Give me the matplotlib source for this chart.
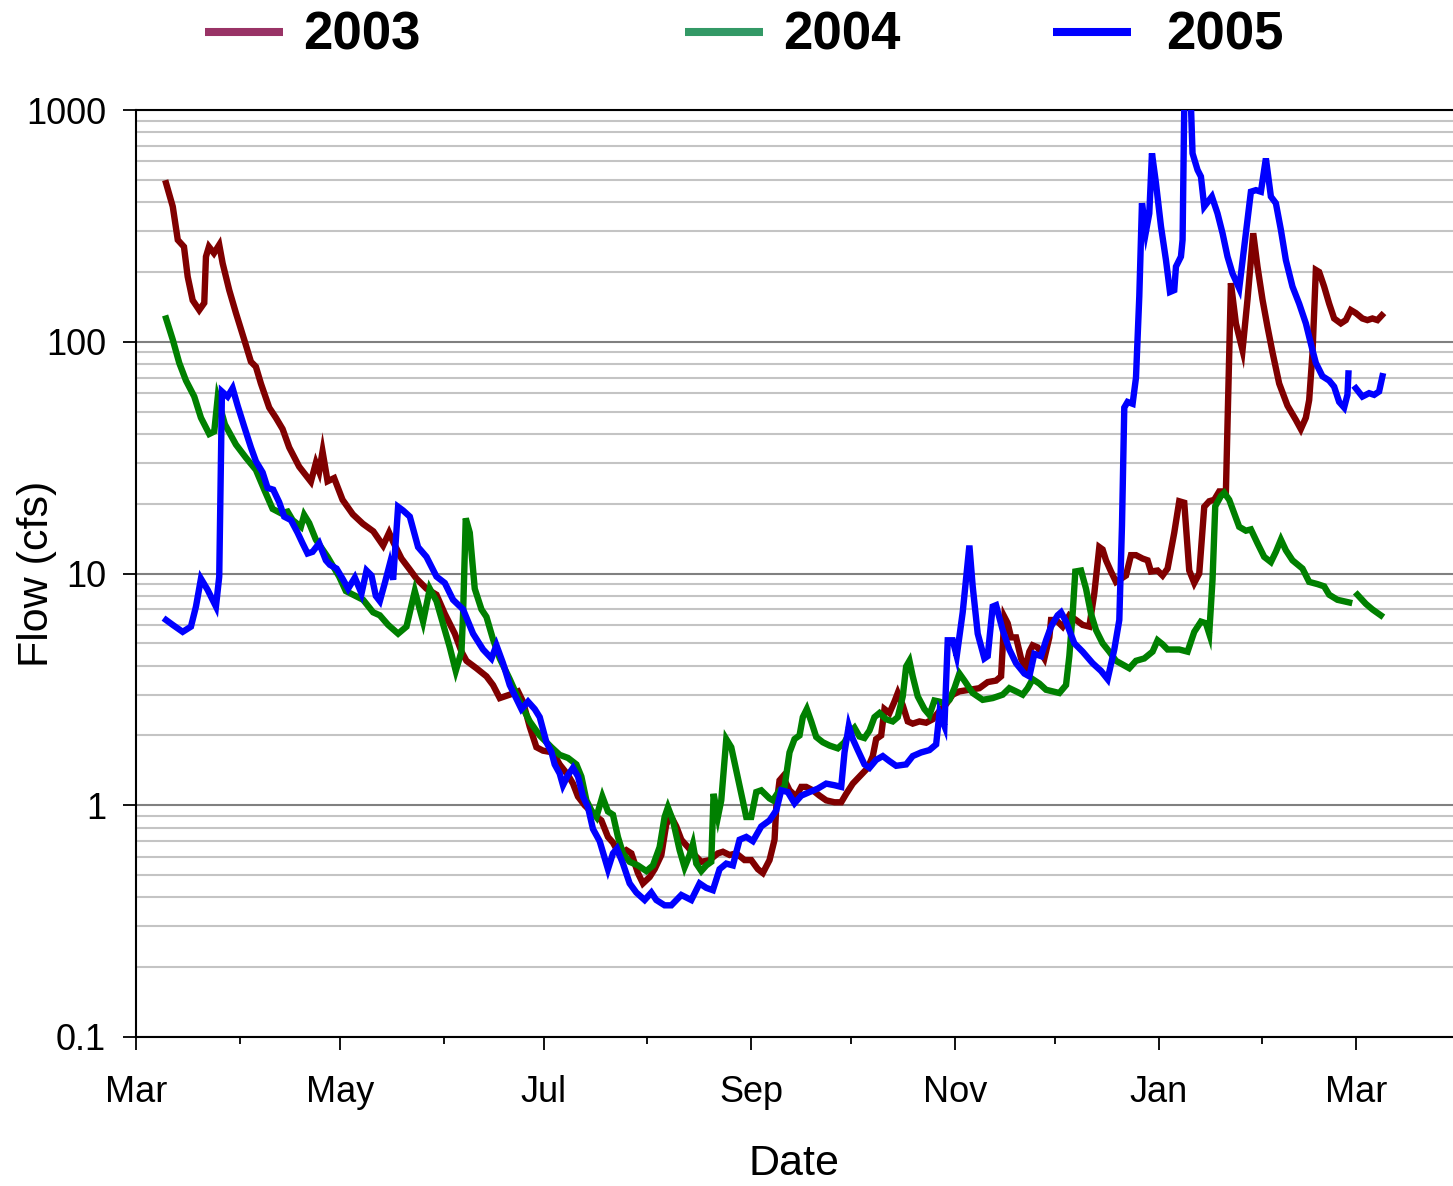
import numpy as np
import matplotlib
matplotlib.use("Agg")
import matplotlib.pyplot as plt
from matplotlib.lines import Line2D
from matplotlib.ticker import FixedLocator, NullFormatter

plt.rcParams['font.family'] = ['Liberation Sans', 'DejaVu Sans']

# ---- data: day offset from 1 March, flow in cfs ----
days_2003 = [9.0, 11.0, 12.5, 14.35, 15.46, 16.95, 18.92, 20.42, 20.93, 21.82, 23.32, 24.9, 25.92, 27.89,
             29.9, 32.38, 34.38, 35.87, 37.37, 39.85, 41.85, 43.86, 45.83, 48.82, 52.32, 53.81, 54.8, 55.81,
             57.31, 59.28, 61.79, 64.87, 67.86, 71.0, 73.93, 75.72, 76.92, 79.43, 81.91, 83.91, 86.9, 89.89,
             92.38, 95.37, 97.37, 98.86, 101.85, 104.84, 106.81, 108.82, 111.81, 114.29, 115.78, 117.79,
             119.79, 121.76, 124.75, 126.75, 129.24, 130.73, 132.23, 134.23, 136.71, 139.22, 141.19, 142.69,
             144.69, 146.69, 148.19, 150.16, 151.66, 153.66, 155.16, 157.16, 158.65, 160.15, 161.64, 163.14,
             165.11, 167.11, 169.12, 171.6, 174.08, 175.57, 177.58, 179.58, 182.06, 184.06, 186.04, 187.53,
             189.53, 191.03, 191.54, 192.52, 193.51, 195.51, 197.51, 199.01, 200.5, 202.48, 204.48, 206.48,
             208.97, 210.97, 212.46, 214.44, 216.44, 218.92, 220.42, 221.43, 222.93, 223.91, 225.41, 226.9,
             227.89, 229.39, 230.88, 232.37, 234.38, 236.38, 238.35, 240.36, 242.36, 244.33, 246.33, 249.32,
             252.31, 254.8, 257.3, 258.8, 259.79, 260.78, 261.79, 263.28, 264.78, 266.07, 267.26, 268.25,
             269.74, 271.75, 273.24, 273.75, 275.24, 277.22, 279.22, 281.22, 283.2, 285.2, 286.69, 288.19,
             289.17, 290.19, 291.68, 293.18, 295.16, 296.17, 297.66, 299.16, 301.13, 302.63, 303.64, 305.62,
             307.11, 308.61, 310.61, 312.1, 313.6, 315.09, 316.59, 318.08, 319.58, 321.07, 322.57, 324.06,
             326.06, 327.56, 329.05, 331.03, 332.52, 334.23, 335.51, 337.01, 338.5, 340.0, 342.0, 344.48,
             346.99, 348.48, 349.98, 350.97, 351.96, 352.97, 353.96, 355.45, 356.95, 358.44, 360.44, 361.94,
             363.43, 364.93, 366.9, 368.4, 369.89, 371.39, 372.7]
flow_2003 = [483, 383, 275, 257, 191, 151, 137, 147, 233, 257, 241, 262, 218, 167,
             133, 102, 82, 78, 66, 52, 47, 42, 35, 28.9, 24.9, 30, 27.5, 33.6,
             25, 25.8, 20.8, 18, 16.4, 15.2, 13.2, 15, 13.7, 11.6, 10.4, 9.5, 8.6, 8.1,
             6.7, 5.5, 4.6, 4.2, 3.9, 3.6, 3.3, 2.9, 3.0, 3.1, 2.8, 2.18,
             1.78, 1.72, 1.69, 1.5, 1.35, 1.24, 1.09, 1.0, 0.92, 0.86, 0.73, 0.69,
             0.61, 0.64, 0.62, 0.51, 0.46, 0.49, 0.53, 0.61, 0.83, 0.89, 0.81, 0.71,
             0.66, 0.61, 0.57, 0.58, 0.62, 0.63, 0.61, 0.62, 0.58, 0.58, 0.53, 0.51,
             0.58, 0.71, 0.98, 1.28, 1.33, 1.16, 1.09, 1.2, 1.2, 1.16, 1.1, 1.05,
             1.03, 1.03, 1.12, 1.24, 1.33, 1.45, 1.63, 1.93, 2.0, 2.6, 2.5, 2.8,
             3.05, 2.7, 2.3, 2.25, 2.3, 2.27, 2.35, 2.55, 2.73, 3.0, 3.1, 3.15,
             3.2, 3.4, 3.45, 3.6, 6.5, 6.1, 5.3, 5.3, 4.3, 3.9, 4.6, 4.9,
             4.8, 4.3, 5.3, 6.3, 6.3, 5.9, 6.6, 6.3, 6.0, 5.9, 8.2, 13,
             12.7, 11.4, 10.2, 9.2, 9.6, 9.8, 12.0, 12.0, 11.6, 11.4, 10.2, 10.3,
             9.8, 10.5, 15, 20.5, 20.2, 10.3, 9.1, 10, 19.4, 20.5, 20.8, 22.6,
             22.6, 179, 120, 92, 152, 294, 211, 152, 116, 90, 66, 53,
             46, 42, 47, 56, 89, 204, 200, 173, 146, 126, 120, 124,
             137, 133, 126, 124, 126, 124, 130]

days_2004 = [9.0, 11.0, 12.94, 14.95, 17.43, 19.43, 21.91, 23.41, 24.42, 26.6, 29.9, 32.88, 35.87, 38.36,
             40.87, 43.35, 45.35, 46.85, 49.33, 50.31, 51.81, 53.81, 57.31, 60.78, 62.78, 64.96, 67.95,
             70.94, 72.94, 75.43, 78.41, 80.92, 83.41, 85.89, 87.89, 89.89, 92.38, 93.87, 95.66, 97.37,
             97.85, 98.65, 99.85, 101.34, 103.35, 104.84, 106.81, 108.82, 111.81, 114.8, 117.79, 120.78,
             124.27, 126.75, 129.24, 131.75, 133.24, 134.74, 136.23, 137.73, 139.52, 141.19, 142.69, 144.18,
             145.68, 147.68, 150.16, 152.67, 154.65, 156.65, 158.14, 159.13, 160.63, 162.63, 164.12, 165.62,
             166.61, 167.62, 169.12, 170.61, 172.1, 172.79, 174.08, 175.09, 176.59, 178.08, 179.58, 181.07,
             182.57, 184.06, 185.56, 187.05, 189.53, 190.52, 192.52, 194.02, 195.51, 197.01, 198.5, 199.49,
             200.69, 202.0, 203.5, 205.47, 207.47, 209.95, 211.96, 213.45, 214.94, 216.44, 217.93, 219.43,
             220.92, 222.42, 224.42, 226.39, 227.89, 229.39, 230.4, 231.39, 232.37, 233.87, 235.87, 237.37,
             238.86, 240.36, 241.85, 243.35, 244.84, 246.33, 247.83, 250.31, 253.3, 256.29, 259.28, 261.28,
             263.28, 265.26, 266.75, 268.25, 270.25, 272.25, 274.23, 276.23, 278.23, 279.22, 280.21, 281.01,
             282.72, 284.21, 285.71, 287.2, 289.17, 291.18, 293.18, 295.16, 297.16, 299.16, 301.64, 304.12,
             305.62, 307.11, 308.61, 312.1, 314.59, 316.59, 318.59, 320.08, 321.07, 322.06, 322.87, 324.57,
             325.56, 327.05, 328.55, 330.04, 332.04, 333.54, 335.51, 337.51, 339.52, 341.01, 342.51, 344.0,
             345.98, 348.97, 350.97, 353.45, 355.45, 356.95, 359.43, 362.93, 364.2, 365.41, 367.92, 369.89,
             372.4]
flow_2004 = [126, 102, 81, 68, 58, 47, 40, 41, 57, 44, 36, 31.6, 28, 23,
             19, 18.2, 18.5, 17, 15.9, 17.9, 16.5, 14.0, 11.8, 9.7, 8.4, 8.1, 7.7,
             6.8, 6.6, 6.0, 5.5, 5.9, 8.4, 6.2, 8.6, 7.6, 5.7, 4.8, 3.8, 4.6,
             6.7, 17.3, 15, 8.6, 7.0, 6.5, 5.2, 4.3, 3.5, 2.8, 2.3, 2.0,
             1.78, 1.65, 1.6, 1.5, 1.33, 1.05, 0.95, 0.89, 1.09, 0.94, 0.91, 0.73,
             0.62, 0.57, 0.55, 0.52, 0.55, 0.66, 0.89, 0.98, 0.86, 0.64, 0.54, 0.61,
             0.68, 0.56, 0.52, 0.55, 0.57, 1.12, 0.89, 1.05, 1.93, 1.78, 1.41, 1.12,
             0.89, 0.89, 1.14, 1.16, 1.07, 1.05, 1.16, 1.2, 1.69, 1.93, 2.0, 2.4,
             2.6, 2.3, 1.97, 1.87, 1.81, 1.76, 1.87, 2.05, 2.16, 1.98, 1.95, 2.1,
             2.4, 2.5, 2.35, 2.3, 2.4, 2.95, 3.97, 4.2, 3.6, 2.95, 2.6, 2.45,
             2.83, 2.8, 2.75, 2.85, 3.2, 3.7, 3.45, 3.05, 2.85, 2.9, 3.0, 3.2,
             3.1, 3.0, 3.2, 3.5, 3.35, 3.15, 3.1, 3.05, 3.3, 4.4, 6.7, 10.2,
             10.3, 8.6, 6.7, 5.7, 5.0, 4.6, 4.2, 4.05, 3.9, 4.2, 4.3, 4.6,
             5.15, 4.95, 4.7, 4.7, 4.6, 5.6, 6.2, 6.1, 5.5, 9.4, 19.5, 21.6,
             22.3, 20.8, 18.2, 15.9, 15.3, 15.5, 13.5, 11.8, 11.2, 12.4, 14.0, 12.6,
             11.4, 10.5, 9.2, 9.0, 8.8, 8.1, 7.7, 7.5, np.nan, 8.1, 7.4, 7.0,
             6.6]

days_2005 = [9.0, 11.0, 13.96, 16.44, 17.94, 19.43, 21.43, 23.92, 24.9, 25.71, 27.41, 28.91, 30.4, 32.38,
             34.38, 35.87, 37.88, 39.37, 41.05, 42.84, 44.33, 46.34, 48.34, 49.83, 51.33, 52.82, 54.8, 56.8,
             58.0, 60.0, 61.79, 63.47, 65.47, 67.47, 68.97, 70.46, 71.75, 72.94, 74.44, 75.93, 76.92, 78.41,
             79.91, 81.91, 84.39, 86.9, 89.89, 92.38, 94.86, 97.85, 100.84, 103.83, 106.34, 107.83, 109.8,
             111.81, 115.31, 117.28, 119.28, 120.78, 122.78, 124.27, 125.26, 126.75, 127.74, 129.24, 130.73,
             132.23, 133.72, 135.22, 136.71, 138.71, 141.19, 142.69, 143.89, 145.68, 147.68, 149.69, 152.17,
             154.17, 155.66, 158.14, 160.15, 163.14, 166.13, 168.61, 170.61, 172.58, 174.59, 176.59, 178.56,
             180.57, 182.57, 184.54, 187.05, 189.53, 191.54, 193.03, 195.0, 197.01, 199.01, 201.49, 203.97,
             206.48, 208.97, 210.97, 211.96, 213.24, 214.44, 215.93, 217.93, 219.43, 221.43, 223.41, 225.41,
             227.41, 230.4, 232.37, 234.88, 237.37, 239.37, 240.36, 241.85, 242.84, 244.33, 245.53, 247.32,
             249.32, 250.31, 251.81, 253.81, 254.8, 256.29, 257.3, 259.28, 261.28, 263.28, 265.77, 267.26,
             268.76, 270.76, 272.25, 273.75, 275.72, 276.74, 278.23, 280.71, 283.2, 286.19, 288.69, 290.67,
             292.67, 294.17, 294.97, 295.66, 296.65, 298.15, 299.16, 300.15, 300.95, 302.15, 303.14, 303.94,
             305.14, 306.64, 308.13, 309.33, 310.61, 311.12, 312.61, 313.1, 313.6, 315.6, 316.08, 317.58,
             318.59, 319.58, 321.07, 321.87, 323.55, 325.05, 326.54, 328.04, 330.04, 331.54, 333.54, 335.04,
             336.53, 338.02, 339.52, 341.01, 342.51, 344.0, 345.98, 347.98, 349.98, 351.96, 352.97, 354.94,
             356.95, 358.44, 359.94, 361.43, 362.42, 362.72, 364.0, 364.93, 366.9, 368.9, 370.4, 371.89,
             372.89]
flow_2005 = [6.3, 6.0, 5.6, 5.9, 7.2, 9.5, 8.5, 7.2, 9.7, 61, 58, 63, 53, 43,
             35, 30.5, 27.3, 23.4, 23, 20.3, 17.6, 17, 15, 13.5, 12.2, 12.4, 13.5, 11.4,
             10.9, 10.5, 9.5, 8.6, 9.6, 8.2, 10.3, 9.8, 8.0, 7.6, 9.1, 11, 9.4, 19.4,
             18.7, 17.6, 13.0, 11.8, 9.7, 9.1, 7.7, 7.0, 5.5, 4.7, 4.3, 4.9, 4.1,
             3.3, 2.6, 2.8, 2.6, 2.4, 1.87, 1.7, 1.5, 1.37, 1.22, 1.35, 1.45,
             1.33, 1.09, 0.98, 0.79, 0.70, 0.53, 0.62, 0.65, 0.56, 0.46, 0.42, 0.39,
             0.42, 0.39, 0.37, 0.37, 0.41, 0.39, 0.46, 0.44, 0.43, 0.53, 0.56, 0.55,
             0.71, 0.73, 0.70, 0.81, 0.86, 0.95, 1.16, 1.14, 1.02, 1.1, 1.14, 1.18,
             1.24, 1.22, 1.2, 1.69, 2.2, 1.93, 1.73, 1.5, 1.45, 1.57, 1.63, 1.55,
             1.48, 1.5, 1.63, 1.69, 1.73, 1.83, 2.5, 2.2, 5.15, 5.15, 4.4, 6.8,
             13.2, 8.8, 5.5, 4.3, 4.4, 7.2, 7.3, 5.7, 4.7, 4.1, 3.7, 3.6,
             4.5, 4.4, 5.15, 5.9, 6.6, 6.8, 6.2, 5.0, 4.6, 4.1, 3.8, 3.5,
             4.7, 6.3, 16.1, 52, 55, 54, 70, 157, 396, 299, 358, 650,
             483, 314, 225, 164, 167, 211, 233, 275, 1050, 1050, 650, 551,
             516, 383, 409, 423, 358, 294, 233, 197, 170, 257, 444, 451,
             444, 618, 423, 396, 304, 225, 173, 146, 120, 92, 81, 71,
             68, 64, 55, 52, 59, 73, np.nan, 63, 58, 60, 59, 61,
             71]

series_labels = ['2003', '2004', '2005']
line_colors = ['#800000', '#008000', '#0000FF']
legend_colors = ['#993366', '#339966', '#0000FF']

month_ticks = [0, 61, 122, 184, 245, 306, 365]
month_labels = ['Mar', 'May', 'Jul', 'Sep', 'Nov', 'Jan', 'Mar']
minor_month_ticks = [31, 92, 153, 214, 275, 337]
y_ticks = [0.1, 1, 10, 100, 1000]
y_labels = ['0.1', '1', '10', '100', '1000']

# ---- figure ----
W, H = 1453, 1186
fig = plt.figure(figsize=(W / 100, H / 100), dpi=100)
ax = fig.add_axes([136 / W, 1 - 1037 / H, 1 - 136 / W, (1037 - 110) / H])

for d, f, c in zip([days_2003, days_2004, days_2005],
                   [flow_2003, flow_2004, flow_2005], line_colors):
    ax.plot(d, f, color=c, lw=4.6, solid_joinstyle='miter', zorder=3)

ax.set_yscale('log')
ax.set_ylim(0.1, 1000)
ax.set_xlim(0, 394)

ax.yaxis.set_major_locator(FixedLocator(y_ticks))
ax.set_yticklabels(y_labels)
ax.yaxis.set_minor_locator(FixedLocator(
    [m * 10.0 ** e for e in range(-1, 3) for m in range(2, 10)]))
ax.yaxis.set_minor_formatter(NullFormatter())

ax.set_xticks(month_ticks)
ax.set_xticklabels(month_labels)
ax.xaxis.set_minor_locator(FixedLocator(minor_month_ticks))

ax.grid(which='major', axis='y', color='#808080', lw=1.5, zorder=1)
ax.grid(which='minor', axis='y', color='#c4c4c4', lw=1.5, zorder=1)

ax.tick_params(axis='both', which='major', labelsize=26, length=9.5, width=1.3,
               direction='out', color='black')
ax.tick_params(axis='x', which='major', pad=18)
ax.tick_params(axis='y', which='major', pad=12)
ax.tick_params(axis='x', which='minor', length=5, width=1.3, direction='out')
ax.tick_params(axis='y', which='minor', length=0)

for s in ['left', 'bottom', 'top']:
    ax.spines[s].set_linewidth(1.5)
    ax.spines[s].set_color('black')
ax.spines['right'].set_visible(False)

ax.set_xlabel('Date', fontsize=31, labelpad=24)
ax.set_ylabel('Flow (cfs)', fontsize=31, va='center')
ax.yaxis.set_label_coords((37 - 136) / (W - 136), 0.5)

# ---- legend (three separately placed entries) ----
legend_x = [205 / W, 685 / W, 1053 / W]
legend_pad = [0.38, 0.37, 0.66]
for lab, col, lx, tp in zip(series_labels, legend_colors, legend_x, legend_pad):
    h = Line2D([], [], color=col, lw=5.8, solid_capstyle='butt')
    fig.legend([h], [lab], loc='center left', bbox_to_anchor=(lx, 1 - 36 / H),
               frameon=False, borderpad=0, borderaxespad=0, handlelength=1.48,
               handletextpad=tp, prop={'weight': 'bold', 'size': 38,
                                       'family': 'Liberation Sans'})

fig.savefig('out.png', dpi=100)
